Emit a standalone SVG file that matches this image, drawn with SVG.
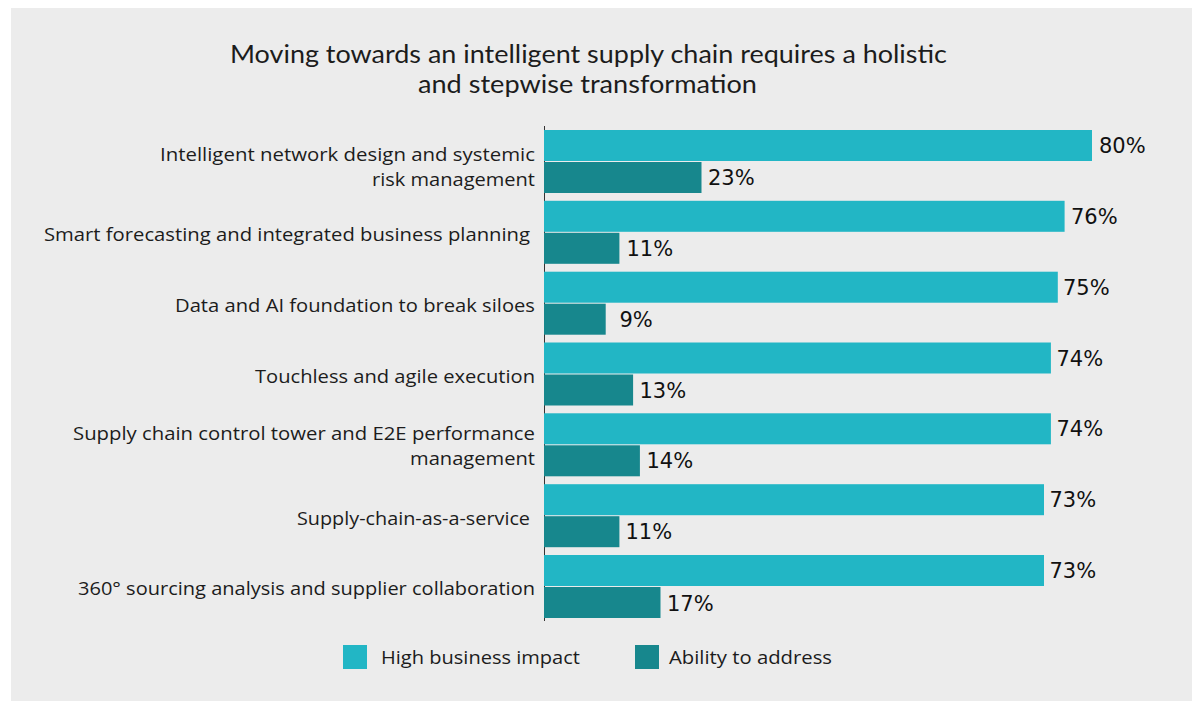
<svg xmlns="http://www.w3.org/2000/svg" width="1192" height="701" viewBox="0 0 1192 701">
<style>
.t{font-family:"Open Sans","Noto Sans","Liberation Sans",sans-serif;fill:#1c1c1c}
.cat{font-size:19px;text-anchor:end}
.title{font-family:Lato,"Open Sans","Liberation Sans",sans-serif;font-size:24.5px;text-anchor:middle}
.val{font-family:"DejaVu Sans","Liberation Sans",sans-serif;font-size:21px;fill:#111}
.hi{fill:#22b6c5}
.ab{fill:#17878d}
.leg{font-size:19px}
</style>
<rect x="11" y="8" width="1181" height="693" fill="#ececec"/>
<g id="title">
<text class="t title" x="588.5" y="63" textLength="717" lengthAdjust="spacingAndGlyphs">Moving towards an intelligent supply chain requires a holistic</text>
<text class="t title" x="587.5" y="93" textLength="339" lengthAdjust="spacingAndGlyphs">and stepwise transformation</text>
</g>
<g id="connectors">
<line x1="544.5" y1="126" x2="544.5" y2="621" stroke="#333" stroke-width="1"/>
</g>
<g id="cat1">
<text class="t cat" x="535" y="161" textLength="375" lengthAdjust="spacingAndGlyphs">Intelligent network design and systemic</text>
<text class="t cat" x="535" y="185.5" textLength="163" lengthAdjust="spacingAndGlyphs">risk management</text>
<rect class="hi" x="544" y="130" width="548" height="31"/>
<rect class="ab" x="544" y="162" width="157.5" height="31"/>
<text class="val" x="1099" y="153">80%</text>
<text class="val" x="708" y="185">23%</text>
</g>
<g id="cat2">
<text class="t cat" x="530" y="241" textLength="486" lengthAdjust="spacingAndGlyphs">Smart forecasting and integrated business planning</text>
<rect class="hi" x="544" y="200.8" width="520.6" height="31"/>
<rect class="ab" x="544" y="232.8" width="75.4" height="31"/>
<text class="val" x="1071" y="223.8">76%</text>
<text class="val" x="626.5" y="255.8">11%</text>
</g>
<g id="cat3">
<text class="t cat" x="535" y="312" textLength="360" lengthAdjust="spacingAndGlyphs">Data and AI foundation to break siloes</text>
<rect class="hi" x="544" y="271.7" width="513.8" height="31"/>
<rect class="ab" x="544" y="303.7" width="61.7" height="31"/>
<text class="val" x="1063" y="294.7">75%</text>
<text class="val" x="619.5" y="326.7">9%</text>
</g>
<g id="cat4">
<text class="t cat" x="535" y="383" textLength="280" lengthAdjust="spacingAndGlyphs">Touchless and agile execution</text>
<rect class="hi" x="544" y="342.5" width="506.9" height="31"/>
<rect class="ab" x="544" y="374.5" width="89.1" height="31"/>
<text class="val" x="1056.5" y="365.5">74%</text>
<text class="val" x="639.5" y="397.5">13%</text>
</g>
<g id="cat5">
<text class="t cat" x="535" y="439.5" textLength="462" lengthAdjust="spacingAndGlyphs">Supply chain control tower and E2E performance</text>
<text class="t cat" x="535" y="465" textLength="125" lengthAdjust="spacingAndGlyphs">management</text>
<rect class="hi" x="544" y="413.3" width="506.9" height="31"/>
<rect class="ab" x="544" y="445.3" width="95.9" height="31"/>
<text class="val" x="1056.5" y="436.3">74%</text>
<text class="val" x="646.5" y="468.3">14%</text>
</g>
<g id="cat6">
<text class="t cat" x="530" y="525" textLength="233" lengthAdjust="spacingAndGlyphs">Supply-chain-as-a-service</text>
<rect class="hi" x="544" y="484.2" width="500" height="31"/>
<rect class="ab" x="544" y="516.2" width="75.4" height="31"/>
<text class="val" x="1049.5" y="507.2">73%</text>
<text class="val" x="625.5" y="539.2">11%</text>
</g>
<g id="cat7">
<text class="t cat" x="535" y="595" textLength="457" lengthAdjust="spacingAndGlyphs">360° sourcing analysis and supplier collaboration</text>
<rect class="hi" x="544" y="555" width="500" height="31"/>
<rect class="ab" x="544" y="587" width="116.5" height="31"/>
<text class="val" x="1049.5" y="578">73%</text>
<text class="val" x="667" y="610.5">17%</text>
</g>
<g id="legend">
<rect class="hi" x="343" y="645" width="24" height="24"/>
<text class="t leg" x="381" y="664" textLength="199" lengthAdjust="spacingAndGlyphs">High business impact</text>
<rect class="ab" x="635" y="645" width="24" height="24"/>
<text class="t leg" x="669" y="664" textLength="163" lengthAdjust="spacingAndGlyphs">Ability to address</text>
</g>
</svg>
